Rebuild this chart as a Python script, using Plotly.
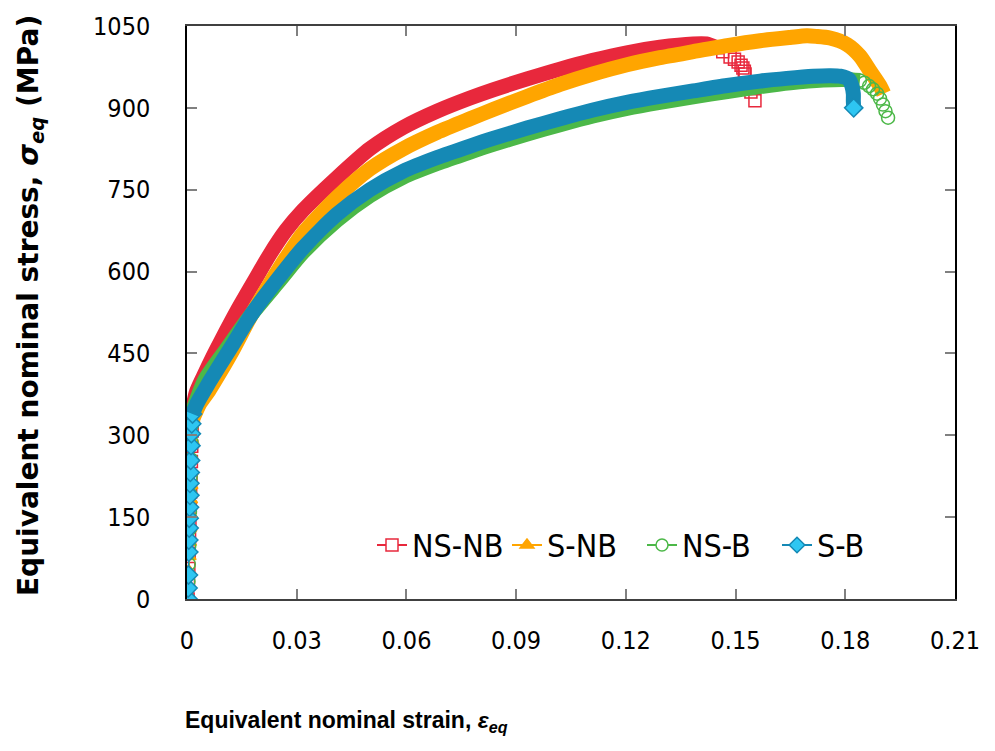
import plotly.graph_objects as go

# ---------------- data ----------------
NS_NB_STRAIN = [0.0003, 0.0004, 0.0005, 0.0006, 0.0007, 0.0008, 0.0009, 0.0010, 0.0011, 0.0012, 0.0013, 0.0014, 0.0016,
                0.0025, 0.0045, 0.0070, 0.0093, 0.0136, 0.0186, 0.0227, 0.0270, 0.0317, 0.0410, 0.0500, 0.0591,
                0.0684, 0.0774, 0.0837, 0.0930, 0.1020, 0.1110, 0.1203, 0.1293, 0.1384, 0.1420, 0.1449,
                0.1465, 0.1485, 0.1497, 0.1507, 0.1515, 0.1520, 0.1524, 0.1526, 0.1542, 0.1553]
NS_NB_STRESS = [0, 28, 56, 84, 112, 140, 168, 196, 224, 252, 280, 308, 350,
                378, 408, 443, 473, 527, 585, 632, 675, 712, 772, 825, 864,
                894, 918, 933, 953, 971, 987, 1001, 1011, 1017, 1017, 1010,
                1003, 993, 989, 984, 978, 973, 967, 962, 929, 913]

S_NB_STRAIN = [0.0003, 0.0004, 0.0005, 0.0006, 0.0007, 0.0008, 0.0009, 0.0010, 0.0011, 0.0012, 0.0013, 0.0014,
               0.0016, 0.0035, 0.0060, 0.0090, 0.0126, 0.0174, 0.0229, 0.0270, 0.0317, 0.0410, 0.0500, 0.0591,
               0.0684, 0.0774, 0.0837, 0.0930, 0.1020, 0.1110, 0.1203, 0.1293, 0.1384, 0.1477, 0.1567, 0.1649,
               0.1695, 0.1720, 0.1758, 0.1805, 0.1840, 0.1868, 0.1895, 0.1905]
S_NB_STRESS = [0, 26, 52, 78, 104, 130, 156, 182, 208, 234, 260, 290,
               330, 358, 382, 415, 457, 518, 580, 624, 670, 736, 788, 825,
               855, 880, 897, 921, 943, 962, 979, 992, 1003, 1014, 1023, 1029,
               1032, 1031, 1028, 1016, 995, 967, 940, 926]

NS_B_STRAIN = [0.0003, 0.0004, 0.0005, 0.0006, 0.0007, 0.0008, 0.0009, 0.0010, 0.0011, 0.0012, 0.0013,
               0.0018, 0.0050, 0.0110, 0.0172, 0.0255, 0.0317, 0.0410, 0.0500, 0.0591, 0.0684, 0.0774, 0.0837,
               0.0930, 0.1020, 0.1110, 0.1203, 0.1293, 0.1384, 0.1477, 0.1567, 0.1650, 0.1740, 0.1800, 0.1840,
               0.1852, 0.1865, 0.1876, 0.1887, 0.1895, 0.1903, 0.1910, 0.1917]
NS_B_STRESS = [0, 32, 64, 96, 128, 160, 192, 224, 256, 288, 318,
               350, 403, 460, 518, 585, 635, 694, 739, 773, 798, 819, 833,
               852, 869, 885, 899, 910, 920, 930, 939, 946, 951, 952, 950,
               946, 940, 934, 926, 917, 906, 894, 882]

S_B_STRAIN = [0.0003, 0.0003, 0.0004, 0.0005, 0.0005, 0.0006, 0.0006, 0.0007, 0.0008, 0.0008, 0.0009, 0.0010,
              0.0011, 0.0012, 0.0013, 0.0015,
              0.0027, 0.0057, 0.0124, 0.0180, 0.0255, 0.0317, 0.0410, 0.0500, 0.0591, 0.0684, 0.0774, 0.0837,
              0.0930, 0.1020, 0.1110, 0.1203, 0.1293, 0.1384, 0.1477, 0.1567, 0.1640, 0.1712, 0.1760, 0.1786,
              0.1810, 0.1818, 0.1822, 0.1822, 0.1823]
S_B_STRESS = [0, 20, 44, 86, 108, 130, 148, 168, 190, 212, 232, 254,
              281, 303, 321, 339,
              358, 393, 465, 525, 592, 643, 705, 750, 784, 809, 830, 844,
              863, 880, 896, 910, 921, 931, 941, 949, 954, 958, 959, 958,
              952, 940, 926, 913, 900]

SERIES = ["NS-NB", "S-NB", "NS-B", "S-B"]
X_TICKS = [0, 0.03, 0.06, 0.09, 0.12, 0.15, 0.18, 0.21]
X_TICK_LABELS = ["0", "0.03", "0.06", "0.09", "0.12", "0.15", "0.18", "0.21"]
Y_TICKS = [0, 150, 300, 450, 600, 750, 900, 1050]

# ---------------- styles ----------------
RED = "#E8283C"
ORANGE = "#FFA500"
GREEN = "#4CB848"
BLUE_EDGE = "#1589B5"
BLUE_FILL = "#2EC6F2"

NARROW = "Liberation Sans Narrow, Arial Narrow, DejaVu Sans Condensed, Liberation Sans, sans-serif"
TITLE_X = "Liberation Sans, Arial, sans-serif"
WIDE_BOLD = "DejaVu Sans, Verdana, sans-serif"

styles = [
    dict(name=SERIES[0], x=NS_NB_STRAIN, y=NS_NB_STRESS, knee=12, tail=35, band=RED,
         sym="square-open", fill=RED, edge=RED, lsym="square", lfill="white", size=12),
    dict(name=SERIES[1], x=S_NB_STRAIN, y=S_NB_STRESS, knee=12, tail=len(S_NB_STRAIN) - 1, band=ORANGE,
         sym="triangle-up", fill=ORANGE, edge=ORANGE, lsym="triangle-up", lfill=ORANGE, size=12),
    dict(name=SERIES[2], x=NS_B_STRAIN, y=NS_B_STRESS, knee=11, tail=34, band=GREEN,
         sym="circle-open", fill=GREEN, edge=GREEN, lsym="circle", lfill="white", size=13),
    dict(name=SERIES[3], x=S_B_STRAIN, y=S_B_STRESS, knee=15, tail=len(S_B_STRAIN) - 1, band=BLUE_EDGE,
         sym="diamond", fill=BLUE_FILL, edge=BLUE_EDGE, lsym="diamond", lfill=BLUE_FILL, size=14),
]

fig = go.Figure()

for s in styles:
    x, y, k, t = s["x"], s["y"], s["knee"], s["tail"]
    mk = dict(symbol=s["sym"], size=s["size"], color=s["fill"],
              line=dict(color=s["edge"], width=1.5))
    # elastic part: discrete markers with thin line
    fig.add_trace(go.Scatter(x=x[:k + 1], y=y[:k + 1], mode="lines+markers",
                             line=dict(color=s["band"], width=1.5), marker=mk,
                             showlegend=False, hoverinfo="skip"))
    # dense plastic part: overlapping markers form a thick band
    fig.add_trace(go.Scatter(x=x[k:t + 1], y=y[k:t + 1], mode="lines",
                             line=dict(color=s["band"], width=15, shape="spline", smoothing=0.7),
                             showlegend=False, hoverinfo="skip"))
    # tail markers
    if t < len(x) - 1 or s["name"] == "S-B":
        fig.add_trace(go.Scatter(x=x[t:], y=y[t:], mode="markers", marker=mk,
                                 showlegend=False, hoverinfo="skip"))

# legend entries
for s in styles:
    fig.add_trace(go.Scatter(x=[None], y=[None], mode="lines+markers", name=s["name"],
                             line=dict(color=s["band"], width=2),
                             marker=dict(symbol=s["lsym"], size=12, color=s["lfill"],
                                         line=dict(color=s["edge"], width=1.5))))

L, R, T, B = 187, 40, 24, 152
W, H = 995, 751
pw, ph = W - L - R, H - T - B

axis_common = dict(showgrid=False, zeroline=False, showline=True, linewidth=1.5,
                   ticks="inside", ticklen=10, tickwidth=1.5, tickcolor="#808080",
                   mirror="ticks", tickfont=dict(family=NARROW, size=25, color="black"))

fig.update_xaxes(range=[0, 0.21], tickvals=X_TICKS, ticktext=X_TICK_LABELS,
                 linecolor="#404040", ticklabelstandoff=18, **axis_common)
fig.update_yaxes(range=[0, 1050], tickvals=Y_TICKS,
                 linecolor="#000000", ticklabelstandoff=30, **axis_common)

fig.update_layout(
    width=W, height=H,
    margin=dict(l=L, r=R, t=T, b=B, pad=0),
    plot_bgcolor="white", paper_bgcolor="white",
    legend=dict(orientation="h", x=(372 - L) / pw, y=(599 - 545) / ph, xanchor="left", yanchor="middle",
                font=dict(family=NARROW, size=32, color="black"), bgcolor="rgba(0,0,0,0)",
                entrywidth=90, entrywidthmode="pixels", itemsizing="trace"),
    annotations=[
        dict(text="<b>Equivalent nominal strain, <i>ε</i><sub><i>eq</i></sub></b>",
             xref="paper", yref="paper", x=(183 - L) / pw, y=(599 - 722) / ph,
             xanchor="left", yanchor="middle", showarrow=False,
             font=dict(family=TITLE_X, size=23, color="black")),
        dict(text="<b>Equivalent nominal stress, <i>σ</i><sub><i>eq</i></sub> (MPa)</b>",
             xref="paper", yref="paper", x=(30 - L) / pw, y=(599 - 305) / ph,
             xanchor="center", yanchor="middle", textangle=-90, showarrow=False,
             font=dict(family=WIDE_BOLD, size=28, color="black")),
    ],
)

fig.write_html("out.html")
